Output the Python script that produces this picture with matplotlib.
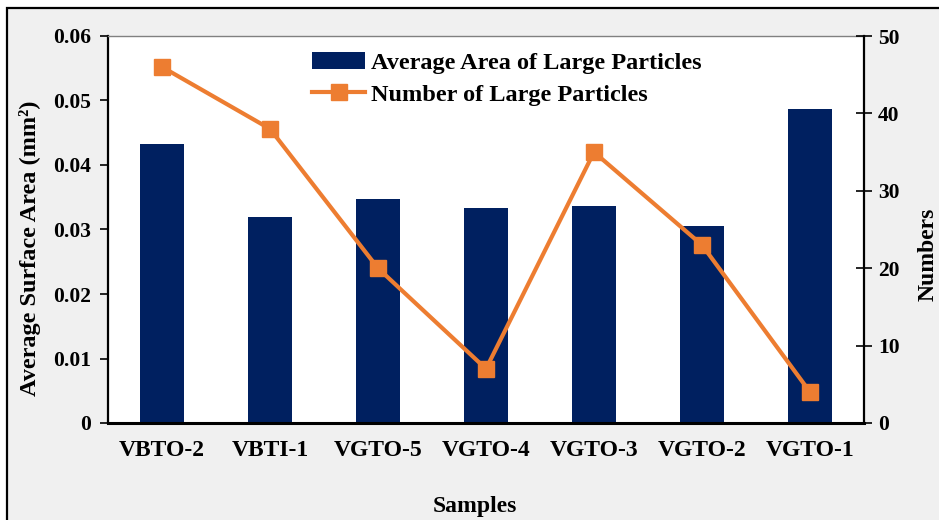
import matplotlib
matplotlib.use("Agg")
import matplotlib.pyplot as plt
from matplotlib.patches import Rectangle
import numpy as np

samples = ["VBTO-2", "VBTI-1", "VGTO-5", "VGTO-4", "VGTO-3", "VGTO-2", "VGTO-1"]
avg_area = [0.0432, 0.0320, 0.0347, 0.0334, 0.0336, 0.0306, 0.0487]
num_particles = [46, 38, 20, 7, 35, 23, 4]
left_ticks = [0, 0.01, 0.02, 0.03, 0.04, 0.05, 0.06]
left_tick_labels = ["0", "0.01", "0.02", "0.03", "0.04", "0.05", "0.06"]
right_ticks = [0, 10, 20, 30, 40, 50]

plt.rcParams['font.family'] = ['Liberation Serif', 'DejaVu Serif']
plt.rcParams['font.weight'] = 'bold'

navy = '#002060'
orange = '#ED7D31'

fig = plt.figure(figsize=(9.39, 5.2), dpi=100, facecolor='white')
# gray frame with black border
fig.patches.append(Rectangle((7/939, -0.1), 1.2, 1 - 8/520 + 0.1, transform=fig.transFigure,
                             facecolor='#f0f0f0', edgecolor='black', linewidth=1.6, zorder=-10))

ax = fig.add_axes([108/939, (520-423)/520, (864-108)/939, (423-36)/520])
ax.set_facecolor('white')
x = np.arange(len(samples))
bars = ax.bar(x, avg_area, width=0.41, color=navy, label='Average Area of Large Particles', zorder=2)
ax.set_xlim(-0.5, len(samples) - 0.5)
ax.set_ylim(0, 0.06)
ax.set_yticks(left_ticks)
ax.set_yticklabels(left_tick_labels)
ax.set_xticks(x)
ax.set_xticklabels(samples, fontsize=17, fontweight='bold')
ax.tick_params(axis='x', length=0, pad=12)
ax.tick_params(axis='y', direction='out', length=6, width=1.2, labelsize=15.5, pad=6)
for lab in ax.get_yticklabels():
    lab.set_fontweight('bold')
ax.spines['left'].set_linewidth(1.6)
ax.spines['bottom'].set_linewidth(2.2)
ax.spines['top'].set_color('#808080')
ax.spines['top'].set_linewidth(1.0)
ax.spines['right'].set_visible(False)
ax.set_ylabel('Average Surface Area (mm²)', fontsize=17.5, fontweight='bold')
ax.yaxis.set_label_coords(-0.1032, 0.452)
ax.yaxis.label.set_verticalalignment('center')
ax.set_xlabel('Samples', fontsize=17, fontweight='bold')
ax.xaxis.set_label_coords(0.4854, -0.2145)
ax.xaxis.label.set_verticalalignment('center')

ax2 = ax.twinx()
line, = ax2.plot(x, num_particles, color=orange, linewidth=3.0, marker='s', markersize=11,
                 label='Number of Large Particles', zorder=3)
ax2.set_ylim(0, 50)
ax2.set_yticks(right_ticks)
ax2.tick_params(axis='y', direction='inout', length=12, width=1.2, labelsize=15.5, pad=4)
for lab in ax2.get_yticklabels():
    lab.set_fontweight('bold')
ax2.spines['right'].set_linewidth(1.6)
ax2.spines['left'].set_visible(False)
ax2.spines['top'].set_visible(False)
ax2.spines['bottom'].set_visible(False)
ax2.set_ylabel('Numbers', fontsize=17, fontweight='bold')
ax2.yaxis.set_label_coords(1.0847, 0.4367)
ax2.yaxis.label.set_verticalalignment('center')

leg = ax2.legend([bars, line], ['Average Area of Large Particles', 'Number of Large Particles'],
                 loc='upper left', bbox_to_anchor=(0.2415, 1.015), frameon=False,
                 prop={'family': 'Liberation Serif', 'weight': 'bold', 'size': 17.5},
                 handlelength=2.15, handletextpad=0.25, labelspacing=0.4)

fig.savefig('out.png', dpi=100, facecolor=fig.get_facecolor())
